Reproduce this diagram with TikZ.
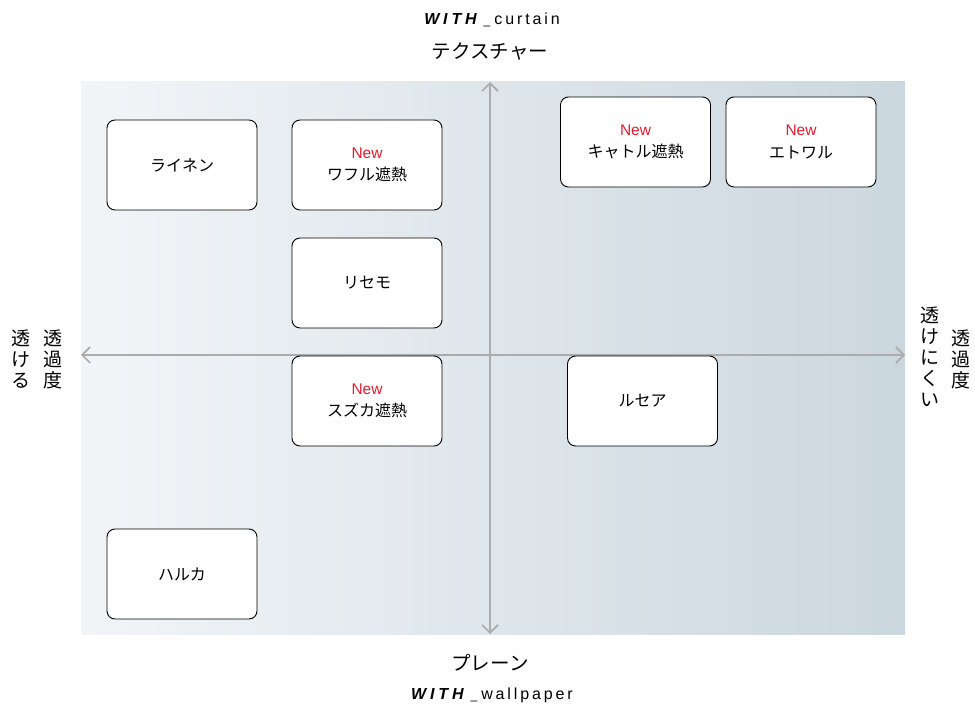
\documentclass[tikz,border=0pt]{standalone}
\usepackage{fontspec}
\usepackage{tikz}
\usetikzlibrary{arrows.meta}
\setmainfont{Noto Sans CJK JP}
\newfontfamily\latinsans{Liberation Sans}
\newfontfamily\latinwith[LetterSpace=24]{Liberation Sans}
\newfontfamily\latinspaced[LetterSpace=18]{Liberation Sans}
\definecolor{bgleft}{HTML}{F2F5F8}
\definecolor{bgright}{HTML}{CBD7DE}
\definecolor{axisgray}{HTML}{ABABAB}
\definecolor{newred}{HTML}{E8192C}
\newcommand{\newtag}{{\latinsans\fontsize{15.5}{16}\selectfont\color{newred}New}}
\newcommand{\withlabel}[1]{{\latinwith\bfseries\itshape WITH}\hspace{7pt}{\latinsans\fontsize{12}{14}\selectfont\_}\hspace{4pt}{\latinspaced #1}}

\begin{document}
\begin{tikzpicture}[x=1pt,y=-1pt,
  item/.style={draw=black,line width=0.9pt,fill=white,rounded corners=8pt,
    minimum width=150pt,minimum height=90pt,align=center,inner sep=0pt,
    font=\fontsize{16}{22.5}\selectfont},
  axis/.style={draw=axisgray,line width=1.6pt,{Straight Barb[length=8pt,width=16pt]}-{Straight Barb[length=8pt,width=16pt]}},
  vlabel/.style={align=center,inner sep=0pt,font=\fontsize{19}{21}\selectfont},
  hlabel/.style={inner sep=0pt,font=\fontsize{19.5}{21}\selectfont},
  wlabel/.style={inner sep=0pt,font=\fontsize{16}{18}\selectfont}]
\useasboundingbox (0,0) rectangle (975,708);
\shade [left color=bgleft,right color=bgright] (81,82) rectangle (905,634);
\coordinate (top) at (490,82);
\coordinate (bottom) at (490,634);
\coordinate (left) at (81,355);
\coordinate (right) at (905,355);
\draw [axis] (bottom) -- (top);
\draw [axis] (left) -- (right);
\node [item] (rainen) at (182,165) {ライネン};
\node [item] (waffle) at (367,165) {\newtag\\ワフル遮熱};
\node [item] (risemo) at (367,283) {リセモ};
\node [item] (suzuka) at (367,401) {\newtag\\スズカ遮熱};
\node [item] (haruka) at (182,574) {ハルカ};
\node [item] (quatre) at (635.5,142) {\newtag\\キャトル遮熱};
\node [item] (etoile) at (801,142) {\newtag\\エトワル};
\node [item] (lucea) at (642.5,401) {ルセア};
\node [wlabel] (curtain) at (492,20) {\withlabel{curtain}};
\node [hlabel] (texture) at (490,52) {テクスチャー};
\node [hlabel] (plain) at (490,663) {プレーン};
\node [wlabel] (wallpaper) at (492,695) {\withlabel{wallpaper}};
\node [vlabel] (lefttitle) at (53,359) {透\\過\\度};
\node [vlabel] (leftnote) at (21,359) {透\\け\\る};
\node [vlabel] (righttitle) at (961,359) {透\\過\\度};
\node [vlabel] (rightnote) at (930,357) {透\\け\\に\\く\\い};
\end{tikzpicture}
\end{document}
